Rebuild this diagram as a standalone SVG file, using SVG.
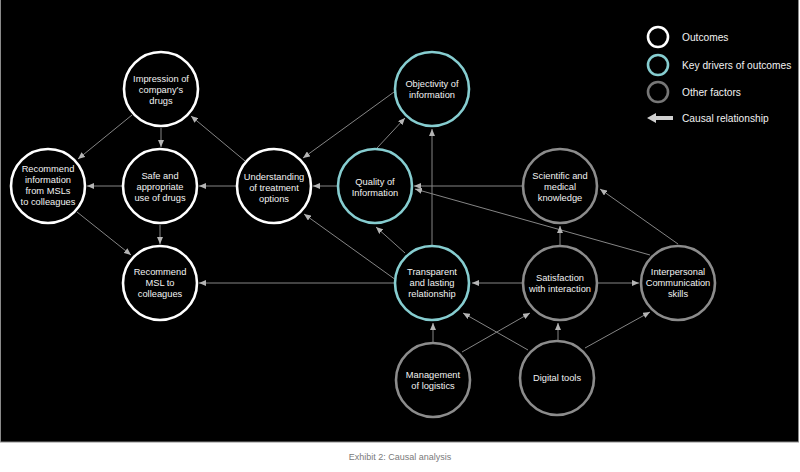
<svg xmlns="http://www.w3.org/2000/svg" width="800" height="472" viewBox="0 0 800 472">
  <style>
    .node circle { fill: #000; stroke-width: 2.6; }
    .outcome circle { stroke: #ffffff; }
    .driver circle { stroke: #86cdd0; }
    .other circle { stroke: #8c8c8c; }
    .node text, .legend text { font-family: "Liberation Sans", Arial, sans-serif; fill: #f2f2f2; text-anchor: middle; }
    .node text { font-size: 9.3px; }
    .legend text { font-size: 10.2px; text-anchor: start; }
    .edges line { stroke: #858585; stroke-width: 1; marker-end: url(#arr); }
    .caption { font-family: "Liberation Sans", Arial, sans-serif; font-size: 9px; fill: #7a7a7a; text-anchor: middle; }
  </style>
  <defs>
    <marker id="arr" viewBox="0 0 7 6" refX="7" refY="3" markerWidth="7" markerHeight="6" markerUnits="userSpaceOnUse" orient="auto">
      <path d="M0,0 L7,3 L0,6 z" fill="#b5b5b5"/>
    </marker>
  </defs>

  <rect x="0" y="0" width="800" height="472" fill="#ffffff"/>
  <rect x="0.5" y="-1" width="798" height="443" fill="#000000" stroke="#8a8a8a" stroke-width="1"/>

  <g id="connectors" class="edges">
    <line x1="132" y1="115" x2="78" y2="159"/>
    <line x1="161" y1="128" x2="161" y2="147"/>
    <line x1="245" y1="161" x2="191" y2="116"/>
    <line x1="122" y1="186" x2="87" y2="186"/>
    <line x1="236" y1="186" x2="199" y2="186"/>
    <line x1="160" y1="225" x2="160" y2="244"/>
    <line x1="77" y1="212" x2="131" y2="255"/>
    <line x1="394" y1="283" x2="199" y2="283"/>
    <line x1="394" y1="92" x2="303" y2="158"/>
    <line x1="337" y1="186" x2="313" y2="186"/>
    <line x1="377" y1="148" x2="405" y2="118"/>
    <line x1="396" y1="280" x2="304" y2="214"/>
    <line x1="405" y1="253" x2="376" y2="227"/>
    <line x1="432" y1="245" x2="432" y2="129"/>
    <line x1="522" y1="186" x2="414" y2="186"/>
    <line x1="650" y1="255" x2="415" y2="189"/>
    <line x1="678" y1="244" x2="600" y2="189"/>
    <line x1="560" y1="245" x2="560" y2="226"/>
    <line x1="522" y1="283" x2="472" y2="283"/>
    <line x1="598" y1="283" x2="639" y2="283"/>
    <line x1="433" y1="342" x2="433" y2="323"/>
    <line x1="462" y1="352" x2="530" y2="313"/>
    <line x1="528" y1="350" x2="463" y2="313"/>
    <line x1="558" y1="340" x2="558" y2="323"/>
    <line x1="585" y1="348" x2="650" y2="312"/>
  </g>

  <g id="impression" class="node outcome">
    <circle cx="161" cy="89" r="37"/>
    <text x="161" y="82">Impression of</text>
    <text x="161" y="93">company’s</text>
    <text x="161" y="104">drugs</text>
  </g>
  <g id="recommend-info" class="node outcome">
    <circle cx="48" cy="186" r="37"/>
    <text x="48" y="172">Recommend</text>
    <text x="48" y="183">information</text>
    <text x="48" y="194">from MSLs</text>
    <text x="48" y="205">to colleagues</text>
  </g>
  <g id="safe-use" class="node outcome">
    <circle cx="160" cy="186" r="37"/>
    <text x="160" y="179">Safe and</text>
    <text x="160" y="190">appropriate</text>
    <text x="160" y="201">use of drugs</text>
  </g>
  <g id="recommend-msl" class="node outcome">
    <circle cx="160" cy="283" r="37"/>
    <text x="160" y="275">Recommend</text>
    <text x="160" y="286">MSL to</text>
    <text x="160" y="297">colleagues</text>
  </g>
  <g id="understanding" class="node outcome">
    <circle cx="274" cy="186" r="37"/>
    <text x="274" y="180">Understanding</text>
    <text x="274" y="191">of treatment</text>
    <text x="274" y="202">options</text>
  </g>
  <g id="objectivity" class="node driver">
    <circle cx="432" cy="89" r="37"/>
    <text x="432" y="87">Objectivity of</text>
    <text x="432" y="98">information</text>
  </g>
  <g id="quality" class="node driver">
    <circle cx="375" cy="186" r="37"/>
    <text x="375" y="185">Quality of</text>
    <text x="375" y="196">Information</text>
  </g>
  <g id="transparent" class="node driver">
    <circle cx="432" cy="283" r="37"/>
    <text x="432" y="275">Transparent</text>
    <text x="432" y="286">and lasting</text>
    <text x="432" y="297">relationship</text>
  </g>
  <g id="scientific" class="node other">
    <circle cx="560" cy="186" r="37"/>
    <text x="560" y="179">Scientific and</text>
    <text x="560" y="190">medical</text>
    <text x="560" y="201">knowledge</text>
  </g>
  <g id="satisfaction" class="node other">
    <circle cx="560" cy="283" r="37"/>
    <text x="560" y="281">Satisfaction</text>
    <text x="560" y="292">with interaction</text>
  </g>
  <g id="interpersonal" class="node other">
    <circle cx="678" cy="283" r="37"/>
    <text x="678" y="275">Interpersonal</text>
    <text x="678" y="286">Communication</text>
    <text x="678" y="297">skills</text>
  </g>
  <g id="logistics" class="node other">
    <circle cx="433" cy="380" r="37"/>
    <text x="433" y="378">Management</text>
    <text x="433" y="389">of logistics</text>
  </g>
  <g id="digital" class="node other">
    <circle cx="557" cy="378" r="37"/>
    <text x="557" y="381">Digital tools</text>
  </g>

  <g id="legend" class="legend">
    <circle cx="658" cy="37" r="10" fill="none" stroke="#ffffff" stroke-width="2.6"/>
    <circle cx="658" cy="65" r="10" fill="none" stroke="#86cdd0" stroke-width="2.6"/>
    <circle cx="658" cy="92" r="10" fill="none" stroke="#777777" stroke-width="2.6"/>
    <path d="M647,118 L656,113 L656,116 L673,116 L673,120 L656,120 L656,123 z" fill="#cfcfcf"/>
    <text x="682" y="41">Outcomes</text>
    <text x="682" y="69">Key drivers of outcomes</text>
    <text x="682" y="96">Other factors</text>
    <text x="682" y="122">Causal relationship</text>
  </g>

  <text class="caption" x="400" y="460">Exhibit 2: Causal analysis</text>
</svg>
